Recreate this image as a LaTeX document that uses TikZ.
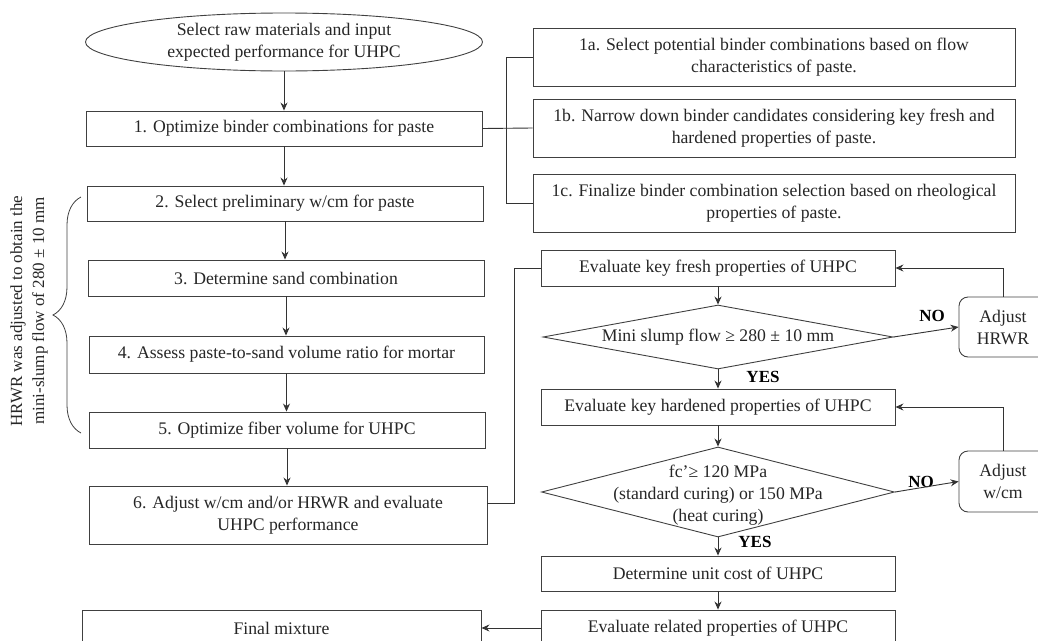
\documentclass[tikz,border=0pt]{standalone}
\usepackage{fontspec}
\setmainfont{Liberation Serif}
\usetikzlibrary{arrows.meta,shapes.geometric,decorations.pathreplacing}
\begin{document}
\begin{tikzpicture}[x=1pt,y=-1pt,
  every node/.style={font=\fontsize{17.7}{22}\selectfont, text=black!85},
  box/.style={draw=black!75, line width=0.9pt, rectangle, inner sep=0pt, align=center},
  rbox/.style={box, rounded corners=9pt},
  dia/.style={draw=black!75, line width=0.9pt, diamond, inner sep=0pt},
  arr/.style={draw=black!80, line width=0.9pt, -{Stealth[length=8pt,width=7pt]}},
  ln/.style={draw=black!80, line width=0.9pt},
  lbl/.style={font=\bfseries\fontsize{17}{20}\selectfont, text=black}
]
\useasboundingbox (0,0) rectangle (1038,640);
\clip (0,0) rectangle (1038,640);

% left column
\node[box, ellipse, minimum width=397pt, minimum height=58pt] (start) at (284,42)
  {Select raw materials and input\\expected performance for UHPC};
\node[box, minimum width=396pt, minimum height=35pt] (b1) at (284,128.5) {1. Optimize binder combinations for paste};
\node[box, minimum width=396pt, minimum height=35pt] (b2) at (285,203.5) {2. Select preliminary w/cm for paste};
\node[box, minimum width=396pt, minimum height=36pt] (b3) at (286,278) {3. Determine sand combination};
\node[box, minimum width=395pt, minimum height=37pt] (b4) at (286.5,354.5) {4. Assess paste-to-sand volume ratio for mortar};
\node[box, minimum width=396pt, minimum height=36pt] (b5) at (287,430) {5. Optimize fiber volume for UHPC};
\node[box, minimum width=398pt, minimum height=58pt] (b6) at (288,515) {6. Adjust w/cm and/or HRWR and evaluate\\UHPC performance};
\node[box, minimum width=399pt, minimum height=36pt] (fin) at (281.5,628) {Final mixture};

% sub-steps of step 1
\node[box, minimum width=482pt, minimum height=58pt] (b1a) at (774,57) {1a. Select potential binder combinations based on flow\\characteristics of paste.};
\node[box, minimum width=482pt, minimum height=58pt] (b1b) at (774,128) {1b. Narrow down binder candidates considering key fresh and\\hardened properties of paste.};
\node[box, minimum width=482pt, minimum height=58pt] (b1c) at (774,203) {1c. Finalize binder combination selection based on rheological\\properties of paste.};

% right column
\node[box, minimum width=354pt, minimum height=36pt] (fresh) at (718,268) {Evaluate key fresh properties of UHPC};
\node[dia, minimum width=350pt, minimum height=64pt] (d1) at (718,337) {};
\node (d1t) at (718,337) {Mini slump flow ≥ 280 ± 10 mm};
\node[rbox, minimum width=88pt, minimum height=60pt] (a1) at (1003,327) {Adjust\\HRWR};
\node[box, minimum width=354pt, minimum height=36pt] (hard) at (718,407) {Evaluate key hardened properties of UHPC};
\node[dia, minimum width=353pt, minimum height=90pt] (d2) at (718,492) {};
\node[align=center] (d2t) at (718,495) {fc'≥ 120 MPa\\(standard curing) or 150 MPa\\(heat curing)};
\node[rbox, minimum width=88pt, minimum height=61pt] (a2) at (1003,481.5) {Adjust\\w/cm};
\node[box, minimum width=354pt, minimum height=35pt] (cost) at (718,573.5) {Determine unit cost of UHPC};
\node[box, minimum width=354pt, minimum height=36pt] (rel) at (718,628) {Evaluate related properties of UHPC};

% labels
\node[lbl] (no1) at (932,316) {NO};
\node[lbl] (yes1) at (763,377) {YES};
\node[lbl] (no2) at (921,482) {NO};
\node[lbl] (yes2) at (755,542) {YES};

% side note
\node[align=center, rotate=90, font=\fontsize{17}{22}\selectfont] (note) at (29,311) {HRWR was adjusted to obtain the\\mini-slump flow of 280 ± 10 mm};
\coordinate (brtop) at (81,197);
\coordinate (brbot) at (81,433);
\draw[draw=black!75, line width=0.8pt, decorate, decoration={brace, amplitude=28pt, aspect=0.5}] (brbot) -- (brtop);

% connectors left column
\draw[arr] (start.south) -- (start.south |- b1.north);
\draw[arr] (b1.south) -- (b1.south |- b2.north);
\draw[arr] (b2.south) -- (b2.south |- b3.north);
\draw[arr] (b3.south) -- (b3.south |- b4.north);
\draw[arr] (b4.south) -- (b4.south |- b5.north);
\draw[arr] (b5.south) -- (b5.south |- b6.north);

% step 1 bracket
\draw[ln] (b1.east) -- (b1b.west);
\draw[ln] (b1a.west) -- ++(-26,0) |- (b1c.west);

% step 6 to evaluation
\draw[ln] ([yshift=12pt]b6.east) -- ++(27,0) |- (fresh.west);

% right column
\draw[arr] (fresh.south) -- (d1.north);
\draw[arr] (d1.east) -- (a1.west);
\draw[arr] (a1.north) |- (fresh.east);
\draw[arr] (d1.south) -- (hard.north);
\draw[arr] (hard.south) -- (d2.north);
\draw[arr] (d2.east) -- (a2.west);
\draw[arr] (a2.north) |- (hard.east);
\draw[arr] (d2.south) -- (cost.north);
\draw[arr] (cost.south) -- (rel.north);
\draw[arr] (rel.west) -- (fin.east);
\end{tikzpicture}
\end{document}
